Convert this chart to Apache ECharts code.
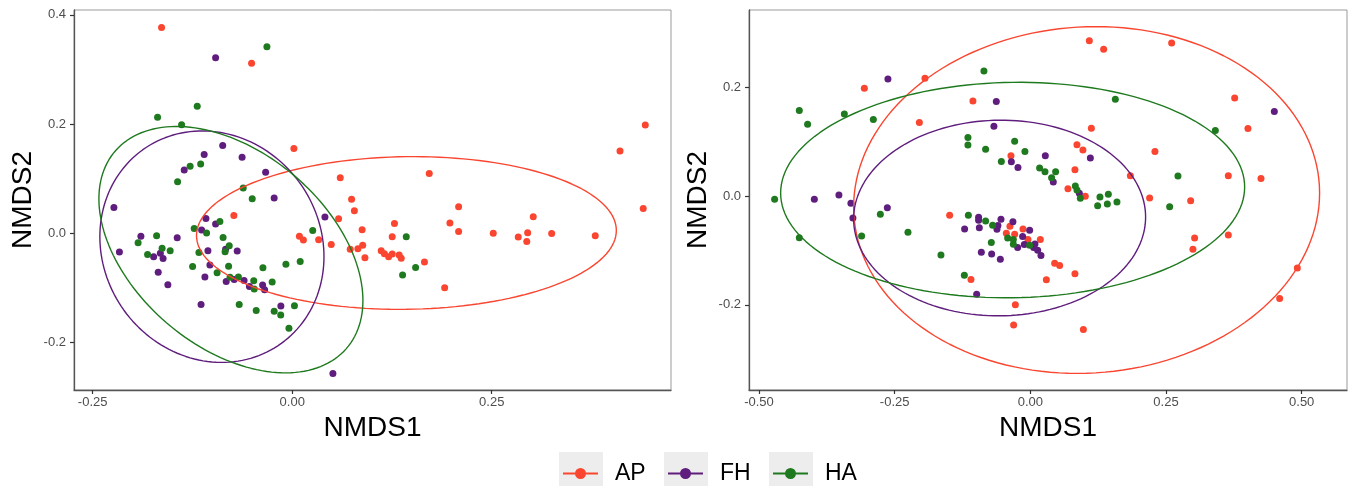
<!DOCTYPE html>
<html>
<head>
<meta charset="utf-8">
<title>NMDS</title>
<style>
    html, body { margin: 0; padding: 0; background: #fff; }
    #demo { width: 1354px; height: 486px; }
</style>
<script src="https://cdn.jsdelivr.net/npm/echarts@6.0.0/dist/echarts.min.js"></script>
</head>
<body>
<div id="demo"></div>
<script>
/******************************************************* 数据区 ********************************************************/

// 分组
var group_names = ['AP', 'FH', 'HA'];
var group_colors = ['#FA4630', '#5F1D7D', '#1F7A1F'];

// 左图 [NMDS1, NMDS2]
var left_ap = [
    [-0.1637, 0.3769], [-0.0509, 0.3111], [0.0021, 0.1548], [0.0602, 0.1012], [0.0744, 0.0618],
    [0.0779, 0.0408], [0.0581, 0.0262], [0.0876, 0.0060], [-0.0731, 0.0322], [0.0090, -0.0062],
    [0.0140, -0.0128], [0.0331, -0.0123], [0.0489, -0.0209], [0.0727, -0.0300], [0.0823, -0.0291],
    [0.0883, -0.0223], [0.0911, -0.0452], [0.1115, -0.0328], [0.1155, -0.0382], [0.1208, -0.0437],
    [0.1253, -0.0384], [0.1340, -0.0403], [0.1366, -0.0465], [0.1281, 0.0176], [0.1253, -0.0071],
    [0.1657, -0.0534], [0.1910, -0.1006], [0.1717, 0.1091], [0.2085, 0.0481], [0.1976, 0.0183],
    [0.2085, 0.0029], [0.2519, -0.0004], [0.2832, -0.0073], [0.2950, 0.0005], [0.2939, -0.0154],
    [0.3020, 0.0298], [0.3251, -0.0009], [0.3797, -0.0053], [0.4107, 0.1506], [0.4424, 0.1982],
    [0.4398, 0.0450]
];
var left_fh = [
    [-0.0960, 0.3213], [-0.0871, 0.1603], [-0.1103, 0.1438], [-0.0628, 0.1391], [-0.1353, 0.1153],
    [-0.0333, 0.1116], [-0.0226, 0.0640], [-0.2234, 0.0468], [0.0410, 0.0293], [-0.1081, 0.0267],
    [-0.0960, 0.0165], [-0.1135, 0.0055], [-0.1896, -0.0059], [-0.1441, -0.0086], [-0.2165, -0.0351],
    [-0.1056, -0.0324], [-0.0835, -0.0300], [-0.0689, -0.0329], [-0.1736, -0.0434], [-0.1652, -0.0370],
    [-0.1618, -0.0467], [-0.1031, -0.0586], [-0.1679, -0.0721], [-0.1094, -0.0809], [-0.0727, -0.0855],
    [-0.0603, -0.0873], [-0.0827, -0.0891], [-0.0536, -0.0983], [-0.0371, -0.0955], [-0.0346, -0.1041],
    [-0.1558, -0.0950], [-0.1142, -0.1312], [-0.0142, -0.1339], [0.0510, -0.2578]
];
var left_ha = [
    [-0.0317, 0.3414], [-0.1190, 0.2324], [-0.1687, 0.2123], [-0.1386, 0.1987], [-0.1279, 0.1226],
    [-0.1147, 0.1264], [-0.1436, 0.0939], [-0.0614, 0.0825], [-0.0501, 0.0628], [0.0257, 0.0046],
    [-0.0906, 0.0212], [-0.1228, 0.0084], [-0.1073, 0.0002], [-0.0866, -0.0081], [-0.1699, -0.0049],
    [-0.1931, -0.0181], [-0.1630, -0.0278], [-0.1529, -0.0324], [-0.1812, -0.0393], [-0.1169, -0.0357],
    [-0.0789, -0.0232], [-0.0841, -0.0342], [-0.1248, -0.0617], [-0.0797, -0.0611], [-0.0367, -0.0639],
    [-0.0079, -0.0575], [0.0100, -0.0525], [-0.0941, -0.0730], [-0.0674, -0.0809], [-0.0482, -0.0876],
    [-0.0476, -0.1028], [-0.0251, -0.0897], [-0.0664, -0.1312], [-0.0451, -0.1422], [-0.0226, -0.1435],
    [0.0028, -0.1336], [-0.0144, -0.1504], [-0.0041, -0.1746], [0.1429, -0.0068], [0.1546, -0.0635],
    [0.1383, -0.0769], [-0.0779, -0.0812]
];

// 右图 [NMDS1, NMDS2]
var right_ap = [
    [-0.3059, 0.1982], [-0.1942, 0.2165], [-0.1058, 0.1749], [-0.2045, 0.1352], [-0.0357, 0.0740],
    [-0.1487, -0.0355], [0.1124, 0.1248], [0.0859, 0.0941], [0.0969, 0.0844], [0.0822, 0.0483],
    [0.0693, 0.0134], [0.1013, -0.0006], [0.1843, 0.0373], [-0.0376, -0.0556], [-0.0136, -0.0606],
    [-0.0442, -0.0685], [-0.0289, -0.0703], [-0.0044, -0.0801], [0.0184, -0.0801], [0.0448, -0.1236],
    [0.0540, -0.1278], [0.0822, -0.1431], [0.0295, -0.1541], [-0.1094, -0.1535], [0.1087, 0.2856],
    [0.1351, 0.2697], [0.2604, 0.2813], [0.3765, 0.1804], [0.4010, 0.1242], [0.2296, 0.0820],
    [0.3648, 0.0373], [0.4250, 0.0324], [0.2198, -0.0037], [0.2954, -0.0086], [0.3027, -0.0771],
    [0.3648, -0.0716], [0.2996, -0.0978], [0.4920, -0.1321], [0.4594, -0.1884], [-0.0276, -0.2000],
    [-0.0308, -0.2373], [0.0977, -0.2453]
];
var right_fh = [
    [-0.2624, 0.2152], [-0.0627, 0.1737], [-0.0671, 0.1284], [-0.0350, 0.0630], [-0.0228, 0.0526],
    [-0.3980, -0.0061], [-0.3527, 0.0018], [-0.3306, -0.0134], [-0.3269, -0.0404], [-0.2635, -0.0214],
    [-0.0953, -0.0391], [-0.1211, -0.0606], [-0.0940, -0.0581], [-0.0541, -0.0428], [0.1106, 0.0697],
    [0.0276, 0.0740], [0.0423, 0.0257], [0.0903, 0.0049], [-0.0953, -0.0446], [-0.0321, -0.0471],
    [-0.0597, -0.0544], [-0.0615, -0.0611], [-0.0013, -0.0630], [-0.0142, -0.0746], [-0.0234, -0.0948],
    [-0.0111, -0.0893], [0.0085, -0.0881], [0.0061, -0.0948], [0.0135, -0.0997], [0.0196, -0.1095],
    [-0.0903, -0.1034], [-0.0713, -0.1064], [-0.0553, -0.1162], [-0.0989, -0.1804], [0.4496, 0.1554]
];
var right_ha = [
    [-0.0855, 0.2299], [-0.4257, 0.1572], [-0.4104, 0.1321], [-0.3427, 0.1510], [-0.2893, 0.1407],
    [-0.1150, 0.1077], [-0.1150, 0.0936], [-0.0824, 0.0862], [-0.0289, 0.1009], [-0.0534, 0.0636],
    [-0.4712, -0.0061], [-0.2764, -0.0336], [-0.2255, -0.0667], [-0.3109, -0.0734], [-0.4257, -0.0765],
    [-0.1142, -0.0355], [-0.0824, -0.0459], [-0.0695, -0.0538], [-0.0100, 0.0820], [0.0171, 0.0514],
    [0.0270, 0.0447], [0.0466, 0.0447], [0.0392, 0.0336], [0.0829, 0.0183], [0.0859, 0.0110],
    [0.0921, -0.0043], [0.1283, -0.0018], [0.1437, 0.0031], [0.1240, -0.0177], [0.1419, -0.0147],
    [0.1596, -0.0110], [-0.1647, -0.1083], [-0.0418, -0.0771], [-0.0313, -0.0801], [-0.0313, -0.0887],
    [-0.0013, -0.0905], [-0.0719, -0.0856], [-0.1216, -0.1456], [0.1566, 0.1780], [0.3409, 0.1205],
    [0.2720, 0.0367], [0.2567, -0.0196]
];

// 置信椭圆 [中心x, 中心y, 轴向量ux, 轴向量uy, 纵向半轴vy]
var left_ellipse_ap = [0.1431, 0.0000, 0.2630, 0.0046, 0.1400];
var left_ellipse_fh = [-0.1006, -0.0251, 0.1404, -0.0183, 0.2115];
var left_ellipse_ha = [-0.0768, -0.0306, 0.1654, -0.0933, 0.2058];
var right_ellipse_ap = [0.1037, -0.0073, 0.4293, 0.0128, 0.3185];
var right_ellipse_fh = [-0.0566, -0.0404, 0.2690, 0.0018, 0.1798];
var right_ellipse_ha = [-0.0326, 0.0110, 0.4275, 0.0055, 0.1980];

// 坐标轴范围与刻度
var left_x_range = [-0.2734, 0.4746];
var left_y_range = [-0.288, 0.409];
var right_x_range = [-0.5184, 0.5835];
var right_y_range = [-0.3566, 0.342];
var left_x_ticks = [-0.25, 0, 0.25];
var left_y_ticks = [-0.2, 0, 0.2, 0.4];
var right_x_ticks = [-0.5, -0.25, 0, 0.25, 0.5];
var right_y_ticks = [-0.2, 0, 0.2];

/******************************************************* 函数区 ********************************************************/

var font_family = '"Liberation Sans", Arial, Helvetica, sans-serif';

// 椭圆轮廓点（数据坐标）
function ellipse_points(p) {
    var pts = [];
    var n = 160;
    for (var i = 0; i <= n; i++) {
        var t = i / n * 2 * Math.PI;
        pts.push([p[0] + p[2] * Math.cos(t), p[1] + p[3] * Math.cos(t) + p[4] * Math.sin(t)]);
    }
    return pts;
}

function make_axis(dim, grid_index, range, ticks, digits) {
    var is_x = dim === 'x';
    return {
        type: 'value',
        gridIndex: grid_index,
        min: range[0],
        max: range[1],
        name: is_x ? 'NMDS1' : 'NMDS2',
        nameLocation: 'middle',
        nameGap: is_x ? 24 : 37,
        nameRotate: is_x ? 0 : 90,
        nameTextStyle: { fontSize: 28, color: '#000', fontFamily: font_family },
        axisLine: { show: true, onZero: false, lineStyle: { color: '#555', width: 1.3 } },
        axisTick: { show: true, length: 4, customValues: ticks, lineStyle: { color: '#333', width: 1.2 } },
        axisLabel: {
            customValues: ticks,
            margin: is_x ? 6 : 8,
            fontSize: 13,
            color: '#4d4d4d',
            fontFamily: font_family,
            formatter: function (v) { return v.toFixed(digits); }
        },
        splitLine: { show: false }
    };
}

function make_scatter(name, color, data, idx) {
    return {
        name: name, type: 'scatter',
        xAxisIndex: idx, yAxisIndex: idx,
        symbolSize: 7,
        itemStyle: { color: color, opacity: 1 },
        data: data,
        z: 3
    };
}

function make_ellipse(name, color, params, idx) {
    return {
        name: name + ' ellipse', type: 'line',
        xAxisIndex: idx, yAxisIndex: idx,
        showSymbol: false, silent: true,
        lineStyle: { color: color, width: 1.4 },
        data: ellipse_points(params),
        z: 4
    };
}

/******************************************************* 组件区域 ******************************************************/

var init_application = function () {
    var chart = echarts.init(document.getElementById('demo'));
    var left_sets = [left_ap, left_fh, left_ha];
    var right_sets = [right_ap, right_fh, right_ha];
    var left_ell = [left_ellipse_ap, left_ellipse_fh, left_ellipse_ha];
    var right_ell = [right_ellipse_ap, right_ellipse_fh, right_ellipse_ha];

    var series = [];
    group_names.forEach(function (g, i) {
        series.push(make_scatter(g, group_colors[i], left_sets[i], 0));
        series.push(make_scatter(g, group_colors[i], right_sets[i], 1));
    });
    group_names.forEach(function (g, i) {
        series.push(make_ellipse(g, group_colors[i], left_ell[i], 0));
        series.push(make_ellipse(g, group_colors[i], right_ell[i], 1));
    });

    // 图例：灰色底框 + 线段圆点（线段分两段，避免与圆点叠加镂空）
    var legend_icon = 'path://M0,4.6h12.2v1.8h-12.2z M22.8,4.6h12.2v1.8h-12.2z M12,5.5a5.5,5.5 0 1,1 11,0a5.5,5.5 0 1,1 -11,0z';
    var legends = group_names.map(function (g, i) {
        return {
            data: [g], left: 563 + i * 105, top: 462,
            itemWidth: 35, itemHeight: 11, icon: legend_icon,
            selectedMode: false, padding: 0,
            textStyle: { fontSize: 23, color: '#000', fontFamily: font_family, padding: [0, 0, 0, 12] }
        };
    });
    var boxes = group_names.map(function (g, i) {
        return {
            type: 'rect', left: 559 + i * 105, top: 452, z: -1,
            shape: { width: 44, height: 40 },
            style: { fill: '#EDEDED' }
        };
    });

    var option = {
        backgroundColor: '#fff',
        animation: false,
        grid: [
            { left: 74, top: 10, width: 597, height: 380, show: true, borderColor: '#9a9a9a', borderWidth: 1 },
            { left: 749, top: 10, width: 598, height: 380, show: true, borderColor: '#9a9a9a', borderWidth: 1 }
        ],
        xAxis: [
            make_axis('x', 0, left_x_range, left_x_ticks, 2),
            make_axis('x', 1, right_x_range, right_x_ticks, 2)
        ],
        yAxis: [
            make_axis('y', 0, left_y_range, left_y_ticks, 1),
            make_axis('y', 1, right_y_range, right_y_ticks, 1)
        ],
        legend: legends,
        graphic: boxes,
        series: series
    };
    chart.setOption(option);
    window.onresize = function () {
        chart.resize();
    };
};

init_application();
</script>
</body>
</html>
